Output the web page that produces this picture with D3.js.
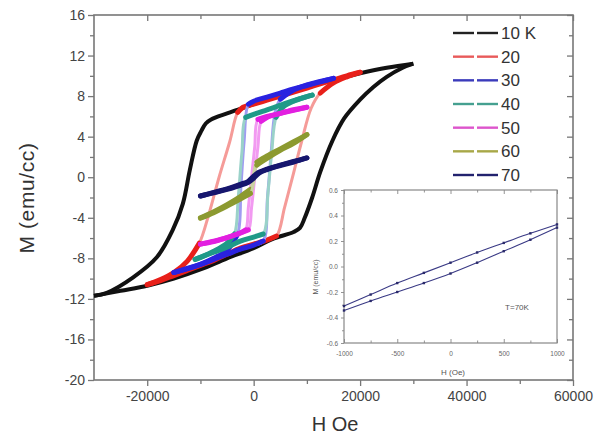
<!DOCTYPE html>
<html>
<head>
<meta charset="utf-8">
<script src="https://cdn.jsdelivr.net/npm/d3@7"></script>
<style>
body { margin: 0; background: #fff; }
svg { display: block; }
text { font-family: Arial, "Liberation Sans", sans-serif; }
</style>
</head>
<body>
<svg id="chart" width="595" height="443"></svg>
<script>
// legend keys and colours
const temps = ["10 K", "20", "30", "40", "50", "60", "70"];
const loopColors = ["#111111", "#e8201a", "#2a22e0", "#1f9a88", "#e21fe0", "#8c9a30", "#16166e"];
const legendColors = ["#222222", "#e85a5a", "#3b3bbb", "#45a090", "#dd55cc", "#a8a848", "#22226e"];

// main loops, [H (Oe), M (emu/cc)]; "up" = field going down from +Hmax, "down" = field going up
const up10 = [[30000,11.2],[25000,10.8],[20000,10.25],[15000,9.6],[10000,8.9],[5000,8.1],[0,7.2],[-5000,6.3],[-8000,5.7],[-9000,5.3],[-9800,4.6],[-10700,3.6],[-12000,0.7],[-13300,-2.6],[-15200,-5.2],[-18200,-7.9],[-22700,-9.9],[-27600,-11.4],[-30000,-11.7]];
const down10 = [[-30000,-11.7],[-25000,-11.2],[-20000,-10.7],[-15000,-10.0],[-10000,-9.1],[-5000,-8.0],[0,-7.0],[3500,-6.1],[7500,-5.4],[8700,-5.0],[9600,-4.0],[11000,-2.0],[12500,0.5],[14800,3.6],[17000,5.8],[19900,7.6],[22500,8.9],[25000,9.9],[28000,10.8],[30000,11.2]];

const up20 = [[20000,10.35],[17500,10.0],[15000,9.6],[12500,9.2],[10000,8.8],[7500,8.4],[5000,8.0],[2500,7.6],[0,7.2],[-2000,6.9],[-3000,6.4],[-4500,3.5],[-6500,0],[-8500,-3.8],[-10200,-6.5],[-12500,-8.3],[-15000,-9.4],[-17500,-10.1],[-20000,-10.6]];
const down20 = [[-20000,-10.6],[-17500,-10.2],[-15000,-9.7],[-12500,-9.2],[-10000,-8.7],[-7500,-8.2],[-5000,-7.6],[-2500,-7.0],[0,-6.6],[2500,-6.2],[4300,-5.8],[5800,-3],[7300,0],[9000,3.5],[10800,6.8],[12500,8.3],[15000,9.3],[17500,9.9],[20000,10.35]];

const up30 = [[15000,9.75],[12500,9.4],[10000,9.05],[7500,8.7],[5000,8.3],[2500,7.9],[0,7.5],[-1000,7.2],[-1800,3.5],[-2400,-1],[-3000,-5.6],[-5000,-7.2],[-7500,-8.0],[-10000,-8.6],[-12500,-9.05],[-15000,-9.4]];
const down30 = [[-15000,-9.4],[-12500,-9.0],[-10000,-8.6],[-7500,-8.1],[-5000,-7.6],[-2500,-7.1],[0,-6.7],[1800,-6.3],[2600,-2],[3300,2.5],[4000,6.3],[5000,7.7],[7500,8.6],[10000,9.1],[12500,9.45],[15000,9.75]];

const up40 = [[11000,8.1],[10000,7.95],[7500,7.55],[5000,7.1],[2500,6.65],[0,6.2],[-1500,5.9],[-2200,2.5],[-2900,-2],[-3600,-5.6],[-5000,-6.5],[-7500,-7.3],[-10000,-7.9],[-11000,-8.1]];
const down40 = [[-11000,-8.1],[-10000,-7.9],[-7500,-7.4],[-5000,-6.9],[-2500,-6.3],[0,-5.9],[1800,-5.6],[2700,-1.5],[3400,2.5],[4200,5.9],[5500,6.9],[7500,7.5],[10000,7.95],[11000,8.1]];

const up50 = [[10000,6.9],[7500,6.6],[5000,6.3],[2500,6.0],[800,5.7],[200,3],[-400,0],[-1000,-3],[-1500,-5.2],[-2500,-5.5],[-5000,-5.95],[-7500,-6.3],[-10000,-6.6]];
const down50 = [[-10000,-6.6],[-7500,-6.35],[-5000,-5.95],[-2500,-5.5],[-1000,-5.2],[-400,-3],[200,0],[800,3],[1400,5.5],[2500,5.9],[5000,6.3],[7500,6.65],[10000,6.9]];

const up60 = [[10000,4.2],[7500,3.5],[5000,2.8],[2500,2.1],[600,1.5],[0,0.4],[-600,-1.2],[-2500,-1.9],[-5000,-2.7],[-7500,-3.4],[-10000,-4.0]];
const down60 = [[-10000,-4.05],[-7500,-3.5],[-5000,-2.85],[-2500,-2.15],[-600,-1.6],[0,-0.5],[600,1.2],[2500,1.85],[5000,2.65],[7500,3.35],[10000,4.2]];

const up70 = [[10000,1.9],[7500,1.55],[5000,1.2],[2500,0.8],[1000,0.5],[0,0.1],[-1000,-0.4],[-2500,-0.7],[-5000,-1.15],[-7500,-1.5],[-10000,-1.85]];
const down70 = [[-10000,-1.85],[-7500,-1.55],[-5000,-1.2],[-2500,-0.8],[-1000,-0.5],[0,-0.1],[1000,0.4],[2500,0.75],[5000,1.15],[7500,1.5],[10000,1.9]];

// inset (T = 70 K, low field)
const insetH = [-1000, -750, -500, -250, 0, 250, 500, 750, 1000];
const insetUp = [-0.31, -0.22, -0.13, -0.05, 0.03, 0.11, 0.185, 0.26, 0.33];
const insetDown = [-0.345, -0.27, -0.20, -0.13, -0.055, 0.03, 0.12, 0.21, 0.305];

// tick values
const xMajor = [-20000, 0, 20000, 40000, 60000];
const xMinor = [-10000, 10000, 30000, 50000];
const yMajor = [-20, -16, -12, -8, -4, 0, 4, 8, 12, 16];
const yMinor = [-18, -14, -10, -6, -2, 2, 6, 10, 14];
const insetXMajor = [-1000, -500, 0, 500, 1000];
const insetXMinor = [-750, -250, 250, 750];
const insetYMajor = [-0.6, -0.4, -0.2, 0.0, 0.2, 0.4, 0.6];
const insetYMinor = [-0.5, -0.3, -0.1, 0.1, 0.3, 0.5];

const loops = [
  {key: temps[0], up: up10, down: down10},
  {key: temps[1], up: up20, down: down20},
  {key: temps[2], up: up30, down: down30},
  {key: temps[3], up: up40, down: down40},
  {key: temps[4], up: up50, down: down50},
  {key: temps[5], up: up60, down: down60},
  {key: temps[6], up: up70, down: down70}
];

const svg = d3.select("#chart");
const x = d3.scaleLinear().domain([-30000, 60000]).range([94, 573]);
const y = d3.scaleLinear().domain([-20, 16]).range([380, 15]);
const color = d3.scaleOrdinal().domain(temps).range(loopColors);
const legendColor = d3.scaleOrdinal().domain(temps).range(legendColors);

function tickLayer(axis, pos, vals, size, fmt, fontSize, pad) {
  const g = svg.append("g").attr("transform", pos)
    .call(axis.tickValues(vals).tickSize(size).tickSizeOuter(0).tickPadding(pad || 3).tickFormat(fmt || (() => "")));
  g.select(".domain").remove();
  g.selectAll("line").attr("stroke", "#777").attr("stroke-width", 1.3);
  g.selectAll("text").attr("fill", "#444").style("font-size", (fontSize || 14) + "px");
  return g;
}

// main frame + ticks
const [x0, x1] = x.range(), [y1, y0] = y.range();
const fmt = d => String(d);
tickLayer(d3.axisBottom(x), `translate(0,${y1})`, xMajor, 6, fmt, 14, 5);
tickLayer(d3.axisBottom(x), `translate(0,${y1})`, xMinor, 4);
tickLayer(d3.axisTop(x), `translate(0,${y0})`, xMajor, -6);
tickLayer(d3.axisTop(x), `translate(0,${y0})`, xMinor, -4);
tickLayer(d3.axisLeft(y), `translate(${x0},0)`, yMajor, 6, fmt, 14, 3);
tickLayer(d3.axisLeft(y), `translate(${x0},0)`, yMinor, 4);
tickLayer(d3.axisRight(y), `translate(${x1},0)`, yMajor, -6);
tickLayer(d3.axisRight(y), `translate(${x1},0)`, yMinor, -4);

svg.append("rect").attr("x", x0).attr("y", y0).attr("width", x1 - x0).attr("height", y1 - y0)
  .attr("fill", "none").attr("stroke", "#777").attr("stroke-width", 1.6);

// loops: dense (flat) stretches thick, sparse steep jumps thin and pale
const line = d3.line().curve(d3.curveCatmullRom.alpha(0.5));
const gLoops = svg.append("g");
loops.forEach((lp, i) => {
  const c = color(lp.key);
  [lp.up, lp.down].forEach(branch => {
    const pts = branch.map(d => [x(d[0]), y(d[1])]);
    if (i === 0) {
      gLoops.append("path").attr("d", line(pts)).attr("fill", "none")
        .attr("stroke", c).attr("stroke-width", 4).attr("stroke-linejoin", "round");
      return;
    }
    gLoops.append("path").attr("d", line(pts)).attr("fill", "none")
      .attr("stroke", d3.interpolateRgb(c, "#fff")(0.55)).attr("stroke-width", 3);
    const runs = [];
    let run = [pts[0]];
    for (let k = 1; k < pts.length; k++) {
      const dx = Math.abs(pts[k][0] - pts[k - 1][0]), dy = Math.abs(pts[k][1] - pts[k - 1][1]);
      if (dy > 1.6 * dx) {
        if (run.length > 1) runs.push(run);
        run = [pts[k]];
      } else run.push(pts[k]);
    }
    if (run.length > 1) runs.push(run);
    runs.forEach(r => gLoops.append("path").attr("d", line(r)).attr("fill", "none")
      .attr("stroke", c).attr("stroke-width", 5).attr("stroke-linecap", "round").attr("stroke-linejoin", "round"));
  });
});

// axis titles
svg.append("text").attr("transform", "translate(34,198) rotate(-90)").attr("text-anchor", "middle")
  .attr("fill", "#333").style("font-size", "21px").style("letter-spacing", "0.6px").text("M (emu/cc)");
svg.append("text").attr("x", 335).attr("y", 431).attr("text-anchor", "middle")
  .attr("fill", "#333").style("font-size", "20px").text("H Oe");

// legend
const ly = d3.scalePoint().domain(temps).range([33, 175]);
const gLeg = svg.append("g");
temps.forEach(t => {
  const c = legendColor(t), yy = ly(t);
  gLeg.append("line").attr("x1", 453).attr("x2", 474).attr("y1", yy).attr("y2", yy).attr("stroke", c).attr("stroke-width", 2.4);
  gLeg.append("line").attr("x1", 477).attr("x2", 498).attr("y1", yy).attr("y2", yy).attr("stroke", c).attr("stroke-width", 2.4);
  gLeg.append("text").attr("x", 501).attr("y", yy + 6).attr("fill", "#333").style("font-size", "17px").text(t);
});

// inset
const ix = d3.scaleLinear().domain([-1000, 1000]).range([344, 557]);
const iy = d3.scaleLinear().domain([-0.6, 0.6]).range([343, 190]);
const [ix0, ix1] = ix.range(), [iy1, iy0] = iy.range();
svg.append("rect").attr("x", ix0).attr("y", iy0).attr("width", ix1 - ix0).attr("height", iy1 - iy0).attr("fill", "#fff");
const ifmtY = d3.format(".1f");
const ifmtX = d => String(d);
[
  tickLayer(d3.axisBottom(ix), `translate(0,${iy1})`, insetXMajor, -4, ifmtX, 6.5, 8),
  tickLayer(d3.axisBottom(ix), `translate(0,${iy1})`, insetXMinor, -2.5),
  tickLayer(d3.axisTop(ix), `translate(0,${iy0})`, insetXMajor, -4),
  tickLayer(d3.axisTop(ix), `translate(0,${iy0})`, insetXMinor, -2.5),
  tickLayer(d3.axisLeft(iy), `translate(${ix0},0)`, insetYMajor, 3, d => ifmtY(d).replace("\u2212", "-"), 6.5, 3),
  tickLayer(d3.axisLeft(iy), `translate(${ix0},0)`, insetYMinor, 2)
].forEach(g => {
  g.selectAll("line").attr("stroke-width", 0.9).attr("stroke", "#888");
  g.selectAll("text").attr("fill", "#666");
});
svg.append("rect").attr("x", ix0).attr("y", iy0).attr("width", ix1 - ix0).attr("height", iy1 - iy0)
  .attr("fill", "none").attr("stroke", "#888").attr("stroke-width", 1.2);

const iline = d3.line().x(d => ix(d[0])).y(d => iy(d[1])).curve(d3.curveCatmullRom.alpha(0.5));
[insetUp, insetDown].forEach(vals => {
  const pts = insetH.map((h, k) => [h, vals[k]]);
  svg.append("path").attr("d", iline(pts)).attr("fill", "none").attr("stroke", "#3a3a85").attr("stroke-width", 1.1);
  svg.append("g").selectAll("rect").data(pts).join("rect")
    .attr("x", d => ix(d[0]) - 1.2).attr("y", d => iy(d[1]) - 1.2).attr("width", 2.4).attr("height", 2.4)
    .attr("fill", "#2a2a6a");
});

svg.append("text").attr("transform", "translate(318,277) rotate(-90)").attr("text-anchor", "middle")
  .attr("fill", "#555").style("font-size", "7px").text("M (emu/cc)");
svg.append("text").attr("x", 453).attr("y", 375).attr("text-anchor", "middle")
  .attr("fill", "#555").style("font-size", "8px").text("H (Oe)");
svg.append("text").attr("x", 517).attr("y", 310).attr("text-anchor", "middle")
  .attr("fill", "#555").style("font-size", "8px").text("T=70K");
</script>
</body>
</html>
